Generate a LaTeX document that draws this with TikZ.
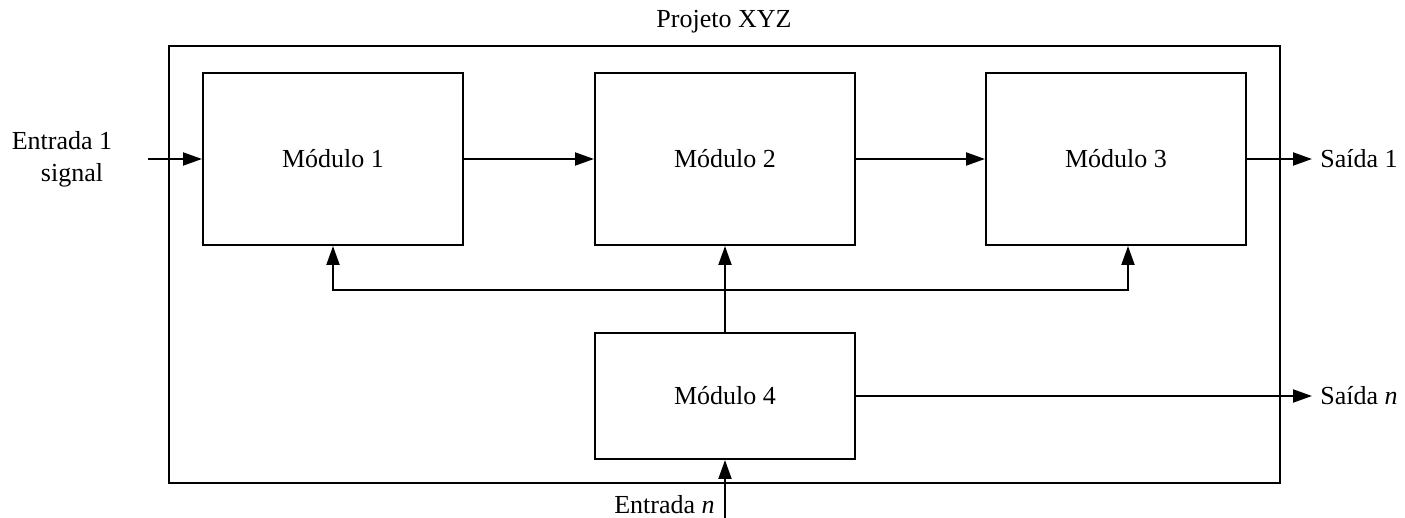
\documentclass[tikz,border=0pt]{standalone}
\usepackage{fontspec}
\setmainfont{Liberation Serif}
\usetikzlibrary{arrows.meta}

\tikzset{
  modulo/.style={draw, line width=1pt, minimum width=130pt, minimum height=86pt, inner sep=0pt},
  arr/.style={line width=1pt, -{Triangle[length=9.5pt,width=6.5pt]}}
}

\begin{document}
\begin{tikzpicture}[x=0.5pt, y=-0.5pt, font=\fontsize{13}{16}\selectfont]
                \useasboundingbox (0,0) rectangle (1405,518);

                % projeto
                \draw[line width=1pt] (169,46) rectangle (1280,483);
                \node (proj) at (724,22) {Projeto XYZ};

                % modulos
                \node[modulo] (m1) at (333,159) {Módulo 1};
                \node[modulo] (m2) at (725,159) {Módulo 2};
                \node[modulo] (m3) at (1116,159) {Módulo 3};
                \node[modulo, minimum height=63pt] (m4) at (725,396) {Módulo 4};

                % entradas e saidas
                \node[align=center] (e1) at (62,159) {Entrada 1\\\hspace*{10pt}signal};
                \coordinate (e1in) at (148,159);
                \node[anchor=west, inner sep=4pt] (s1) at (1312,159) {Saída 1};
                \node[anchor=west, inner sep=4pt] (sn) at (1312,396) {Saída \textit{n}};
                \coordinate (enin) at (725,518);
                \node[anchor=east, inner sep=2pt] (en) at (719,505) {Entrada \textit{n}};

                \draw[arr] (e1in) -- (m1.west);
                \draw[arr] (m1) -- (m2);
                \draw[arr] (m2) -- (m3);
                \draw[arr] (m3.east) -- (s1.west);
                \draw[arr] (m4.east) -- (sn.west);
                \draw[arr] (enin) -- (m4.south);

                % barramento
                \coordinate (bus) at (725,290);
                \draw[arr] (m4.north) -- (m2.south);
                \draw[arr] (bus) -| (m1.south);
                \draw[arr] (bus) -| ([xshift=6pt]m3.south);
\end{tikzpicture}
\end{document}
